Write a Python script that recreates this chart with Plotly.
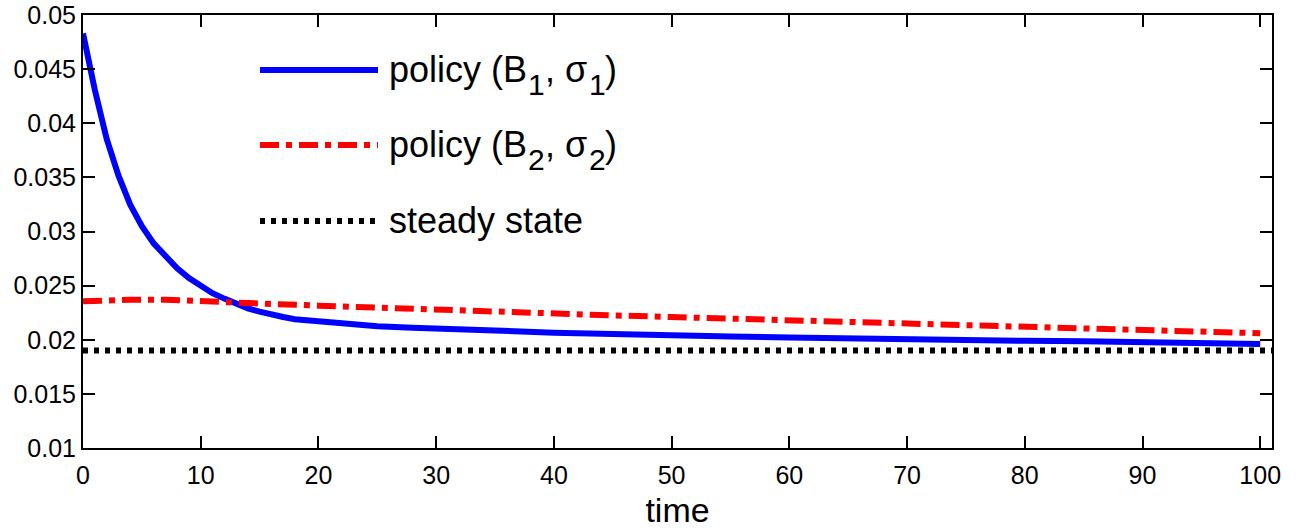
import plotly.graph_objects as go

# Time grid and simulated paths
t_b1 = [0, 1, 2, 3, 4, 5, 6, 7, 8, 9, 10, 11, 12, 13, 14, 15, 16, 17, 18, 20,
        22, 25, 28, 30, 35, 40, 45, 50, 55, 60, 65, 70, 75, 80, 85, 90, 95, 100]
policy_b1 = [0.0483, 0.0431, 0.0386, 0.0352, 0.0325, 0.0305, 0.0289, 0.0277, 0.0266,
             0.0257, 0.0250, 0.0243, 0.0238, 0.0233, 0.0229, 0.0226, 0.0223, 0.0221,
             0.0219, 0.0217, 0.0215, 0.02125, 0.0211, 0.0210, 0.02085, 0.02065, 0.0205,
             0.0204, 0.0203, 0.0202, 0.0201, 0.0200, 0.01995, 0.0199, 0.01985, 0.0198,
             0.0197, 0.0196]

t_b2 = [0, 2, 4, 7, 10, 15, 20, 25, 30, 35, 40, 45, 50, 55, 60, 65, 70, 75, 80, 85, 90, 95, 100]
policy_b2 = [0.02355, 0.02365, 0.0237, 0.0237, 0.02352, 0.02335, 0.02315, 0.02295, 0.0228,
             0.0226, 0.0224, 0.02225, 0.0221, 0.02195, 0.0218, 0.0216, 0.0214, 0.02125,
             0.0211, 0.0210, 0.0208, 0.0207, 0.0206]

t_ss = [0, 101]
steady_state = [0.019, 0.019]

x_ticks = [0, 10, 20, 30, 40, 50, 60, 70, 80, 90, 100]
y_ticks = [0.01, 0.015, 0.02, 0.025, 0.03, 0.035, 0.04, 0.045, 0.05]
y_tick_text = ["0.01", "0.015", "0.02", "0.025", "0.03", "0.035", "0.04", "0.045", "0.05"]

# Legend entries: (main text pieces, subscript pieces); subscripts set lower and smaller
legend_entries = [
    (["policy (B", ", σ", ")"], ["1", "1"]),
    (["policy (B", ", σ", ")"], ["2", "2"]),
    (["steady state"], []),
]

FONT = "Liberation Sans, Arial, sans-serif"
W, H = 1296, 529
ML, MR, MT, MB = 83, 24, 15, 81

blue = dict(color="#0000ff", width=6)
red = dict(color="#ff0000", width=6, dash="19px,7px,6px,7px")
black = dict(color="#000000", width=6, dash="5px,6px")

fig = go.Figure()
fig.add_trace(go.Scatter(x=t_b1, y=policy_b1, mode="lines", line=blue, showlegend=False))
fig.add_trace(go.Scatter(x=t_b2, y=policy_b2, mode="lines", line=red, showlegend=False))
fig.add_trace(go.Scatter(x=t_ss, y=steady_state, mode="lines", line=black, showlegend=False))

# Hand-built legend in the upper-left part of the axes
pw, ph = W - ML - MR, H - MT - MB


def px_x(p):
    return (p - ML) / pw


def px_y(p):
    return (H - MB - p) / ph


rows = [70, 145, 221]
styles = [blue, red, black]
main_x = [388, 544, 604]     # left edges of main text pieces
sub_x = [527, 588]           # left edges of subscripts
for row, sty, (mains, subs) in zip(rows, styles, legend_entries):
    fig.add_shape(type="line", xref="paper", yref="paper",
                  x0=px_x(260), x1=px_x(378), y0=px_y(row), y1=px_y(row), line=sty)
    for xp, txt in zip(main_x, mains):
        fig.add_annotation(xref="paper", yref="paper", x=px_x(xp), y=px_y(row - 0.5),
                           text=txt, showarrow=False, xanchor="left", yanchor="middle",
                           borderpad=0, font=dict(family=FONT, size=36, color="black"))
    for xp, txt in zip(sub_x, subs):
        fig.add_annotation(xref="paper", yref="paper", x=px_x(xp), y=px_y(row + 14.5),
                           text=txt, showarrow=False, xanchor="left", yanchor="middle",
                           borderpad=0, font=dict(family=FONT, size=30, color="black"))

axis_common = dict(showline=True, linecolor="black", linewidth=2, mirror="ticks",
                   ticks="inside", ticklen=12, tickwidth=1.5, tickcolor="black",
                   showgrid=False, zeroline=False, automargin=False,
                   tickfont=dict(family=FONT, size=25, color="black"))

fig.update_layout(
    width=W, height=H,
    margin=dict(l=ML, r=MR, t=MT, b=MB),
    paper_bgcolor="white", plot_bgcolor="white",
    xaxis=dict(range=[0, 101], tickvals=x_ticks, ticklabelstandoff=4,
               title=dict(text="time", font=dict(family=FONT, size=34, color="black"), standoff=10),
               **axis_common),
    yaxis=dict(range=[0.01, 0.05], tickvals=y_ticks, ticktext=y_tick_text, **axis_common),
)

fig.write_html("out.html")
